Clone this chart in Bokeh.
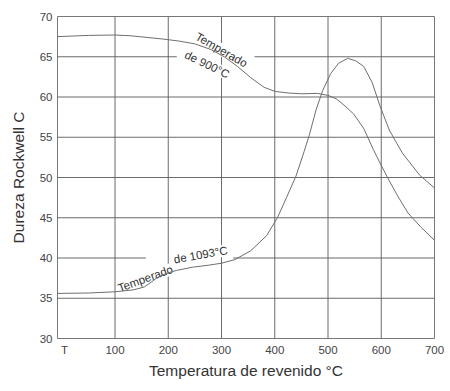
import math
from bokeh.plotting import figure
from bokeh.models import Range1d, FixedTicker
from bokeh.core.properties import value
from bokeh.embed import file_html
from bokeh.resources import INLINE

# ---- data ----
x_ticks = [5, 100, 200, 300, 400, 500, 600, 700]
x_tick_labels = ["T", "100", "200", "300", "400", "500", "600", "700"]
y_ticks = [30, 35, 40, 45, 50, 55, 60, 65, 70]

# Temperado de 900 °C
temp_900 = [-8, 50, 100, 130, 160, 190, 220, 250, 280, 305, 330, 355, 380, 400, 425,
            450, 480, 500, 515, 530, 548, 567, 585, 600, 615, 630, 650, 675, 700]
hrc_900 = [67.5, 67.65, 67.7, 67.6, 67.4, 67.2, 66.95, 66.6, 65.9, 65.0, 63.8, 62.4, 61.2,
           60.7, 60.5, 60.4, 60.45, 60.2, 59.8, 59.0, 57.9, 56.1, 53.5, 51.5, 49.6, 47.8,
           45.6, 43.8, 42.2]

# Temperado de 1093 °C
temp_1093 = [-8, 50, 100, 135, 155, 168, 180, 195, 215, 245, 275, 300, 325, 355, 385, 405,
             422, 440, 455, 465, 478, 490, 505, 520, 537, 552, 567, 583, 597, 615, 640, 672, 700]
hrc_1093 = [35.6, 35.65, 35.8, 36.05, 36.4, 37.0, 37.6, 38.05, 38.45, 38.85, 39.1, 39.35,
            39.8, 40.9, 42.8, 45.0, 47.5, 50.2, 53.2, 55.3, 58.5, 60.8, 62.9, 64.2, 64.8,
            64.5, 63.8, 61.8, 59.0, 55.9, 53.0, 50.3, 48.7]

X_MIN, X_MAX = -8, 700
Y_MIN, Y_MAX = 30, 70
# horizontal grid lines interrupted by the curve labels
grid_gaps = {65: (216, 362), 40: (158, 322)}

GRID = "#5a5a5a"
CURVE = "#6e6e6e"
TEXT = "#333333"
FONT = "Liberation Sans"

p = figure(width=446, height=383, output_backend="svg", toolbar_location=None,
           x_range=Range1d(X_MIN, X_MAX), y_range=Range1d(Y_MIN, Y_MAX),
           min_border_left=57, min_border_right=12, min_border_top=16,
           min_border_bottom=45)
p.background_fill_color = "white"
p.border_fill_color = "white"
p.outline_line_color = "#777777"
p.outline_line_width = 1
p.xgrid.visible = False
p.ygrid.visible = False

# grid lines
vx0, vx1, vy0, vy1 = [], [], [], []
for t in x_ticks[1:-1]:
    vx0.append(t); vx1.append(t); vy0.append(Y_MIN); vy1.append(Y_MAX)
hx0, hx1, hy0, hy1 = [], [], [], []
for t in y_ticks[1:-1]:
    if t in grid_gaps:
        a, b = grid_gaps[t]
        pieces = [(X_MIN, a), (b, X_MAX)]
    else:
        pieces = [(X_MIN, X_MAX)]
    for s, e in pieces:
        hx0.append(s); hx1.append(e); hy0.append(t); hy1.append(t)
p.segment(vx0, vy0, vx1, vy1, line_color=GRID, line_width=0.9)
p.segment(hx0, hy0, hx1, hy1, line_color=GRID, line_width=0.9)

# curve labels
lab_x = [300, 273, 157, 261]
lab_y = [65.85, 64.05, 37.45, 40.4]
lab_t = ["Temperado", "de 900°C", "Temperado", "de 1093°C"]
lab_a = [-30, -26, 20, 10]
p.text(x=lab_x, y=lab_y, text=lab_t, angle=[math.radians(a) for a in lab_a],
       text_align="center", text_baseline="middle", text_font=value(FONT),
       text_font_size="11.5px", text_color=TEXT,
       background_fill_color="white")

# curves
p.line(temp_900, hrc_900, line_color=CURVE, line_width=1)
p.line(temp_1093, hrc_1093, line_color=CURVE, line_width=1)

# axes
p.xaxis.ticker = FixedTicker(ticks=x_ticks)
p.xaxis.major_label_overrides = {t: l for t, l in zip(x_ticks, x_tick_labels)}
p.yaxis.ticker = FixedTicker(ticks=y_ticks)
for ax in (p.xaxis[0], p.yaxis[0]):
    ax.axis_line_color = None
    ax.major_tick_line_color = None
    ax.minor_tick_line_color = None
    ax.major_tick_out = 0
    ax.major_tick_in = 0
    ax.minor_tick_out = 0
    ax.major_label_text_font = FONT
    ax.major_label_text_font_size = "11.5px"
    ax.major_label_text_color = "#444444"
    ax.major_label_standoff = 5
    ax.axis_label_text_font = FONT
    ax.axis_label_text_font_style = "normal"
    ax.axis_label_text_font_size = "15.5px"
    ax.axis_label_text_color = TEXT
p.xaxis.axis_label = "Temperatura de revenido °C"
p.yaxis.axis_label = "Dureza Rockwell C"
p.xaxis.axis_label_standoff = 3
p.yaxis.axis_label_standoff = 10

open("out.html", "w").write(file_html(p, INLINE))
